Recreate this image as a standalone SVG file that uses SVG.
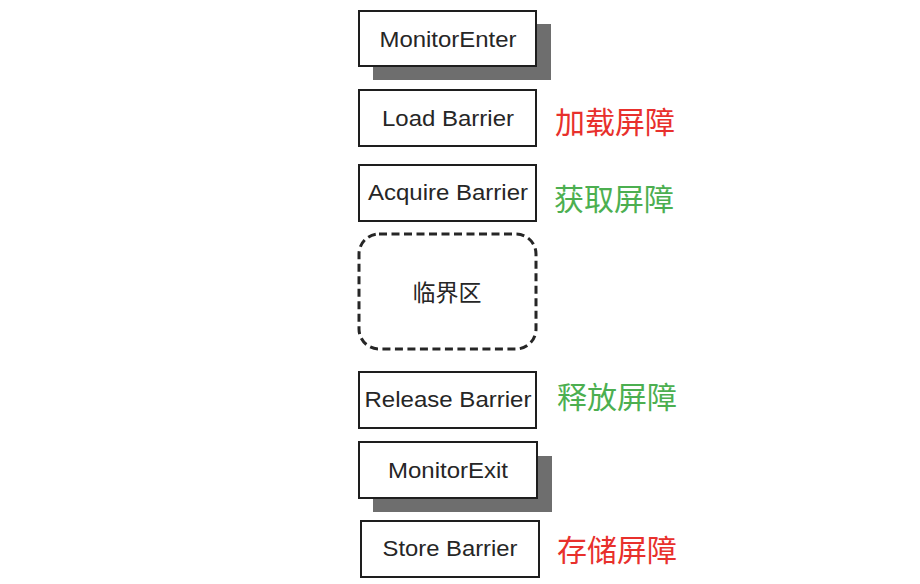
<svg xmlns="http://www.w3.org/2000/svg" width="920" height="584" viewBox="0 0 920 584">
<style>
.box{fill:#ffffff;stroke:#1e1e1e;stroke-width:2}
.shadow{fill:#6e6e6e}
.lbl{font-family:"Liberation Sans",Arial,sans-serif;font-size:21.5px;fill:#262626;text-anchor:middle}
.cjk{font-family:"Noto Sans CJK SC","Liberation Sans",sans-serif;font-size:30px}
.red{fill:#e8302c}
.green{fill:#4caf50}
.crit{fill:#ffffff;stroke:#262626;stroke-width:3;stroke-dasharray:8 4.5}
</style>
<rect width="920" height="584" fill="#ffffff"/>
<g id="monitor-enter">
<rect class="shadow" x="373" y="24" width="178" height="56"/>
<rect class="box" x="359" y="11" width="177" height="55"/>
<text class="lbl" x="448" y="47" textLength="137" lengthAdjust="spacingAndGlyphs">MonitorEnter</text>
</g>
<g id="load-barrier">
<rect class="box" x="359" y="90" width="177" height="56"/>
<text class="lbl" x="448" y="126" textLength="132" lengthAdjust="spacingAndGlyphs">Load Barrier</text>
<text class="cjk red" x="555" y="133">加载屏障</text>
</g>
<g id="acquire-barrier">
<rect class="box" x="359" y="165" width="177" height="56"/>
<text class="lbl" x="448" y="200" textLength="160" lengthAdjust="spacingAndGlyphs">Acquire Barrier</text>
<text class="cjk green" x="554" y="210">获取屏障</text>
</g>
<g id="critical-section">
<rect class="crit" x="359" y="234" width="177" height="115" rx="20" ry="20"/>
<text class="cjk" x="447" y="301" style="font-size:23px;fill:#262626;text-anchor:middle">临界区</text>
</g>
<g id="release-barrier">
<rect class="box" x="359" y="372" width="177" height="56"/>
<text class="lbl" x="448" y="407" textLength="167" lengthAdjust="spacingAndGlyphs">Release Barrier</text>
<text class="cjk green" x="557" y="408">释放屏障</text>
</g>
<g id="monitor-exit">
<rect class="shadow" x="373" y="456" width="179" height="56"/>
<rect class="box" x="359" y="442" width="178" height="56"/>
<text class="lbl" x="448" y="478" textLength="120" lengthAdjust="spacingAndGlyphs">MonitorExit</text>
</g>
<g id="store-barrier">
<rect class="box" x="361" y="521" width="178" height="56"/>
<text class="lbl" x="450" y="556" textLength="135" lengthAdjust="spacingAndGlyphs">Store Barrier</text>
<text class="cjk red" x="557" y="561">存储屏障</text>
</g>
</svg>
